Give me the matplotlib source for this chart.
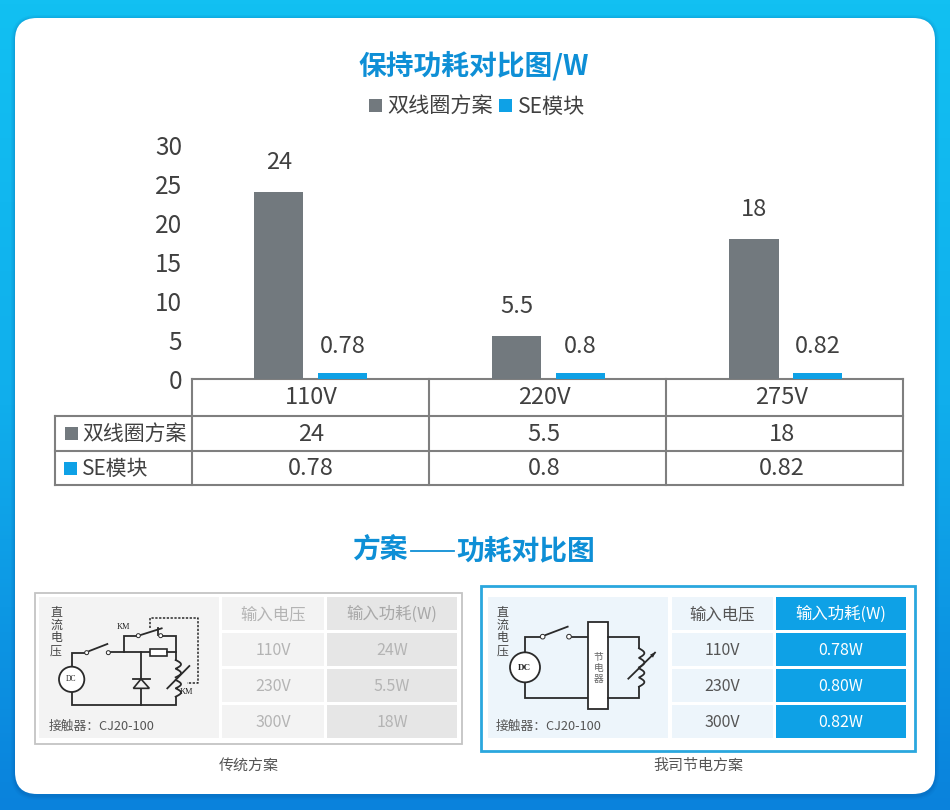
import numpy as np
import matplotlib
matplotlib.use("Agg")
import matplotlib.pyplot as plt
from matplotlib.colors import LinearSegmentedColormap
from matplotlib.patches import Rectangle, FancyBboxPatch, Circle, Polygon

plt.rcParams['font.family'] = ['Noto Sans CJK SC', 'DejaVu Sans']

# data
voltages = ["110V", "220V", "275V"]
series_names = ["双线圈方案", "SE模块"]
coil_values = [24, 5.5, 18]
se_values = [0.78, 0.8, 0.82]
coil_labels = ["24", "5.5", "18"]
se_labels = ["0.78", "0.8", "0.82"]
y_ticks = [0, 5, 10, 15, 20, 25, 30]

table_head = ["输入电压", "输入功耗(W)"]
input_volts = ["110V", "230V", "300V"]
old_power = ["24W", "5.5W", "18W"]
new_power = ["0.78W", "0.80W", "0.82W"]

GRAY = "#72797e"
BLUE = "#0ea1e6"
TITLE = "#0e8fd6"
TEXT = "#404040"
GRID = "#7f7f7f"

fig = plt.figure(figsize=(9.5, 8.1), dpi=100)

# pixel canvas for everything around the chart
ov = fig.add_axes([0, 0, 1, 1], zorder=1)
ov.set_xlim(0, 950)
ov.set_ylim(810, 0)
ov.axis('off')

cmap = LinearSegmentedColormap.from_list("bg", ["#12c0f2", "#10aeec", "#0a82dc"])
ov.imshow(np.linspace(0, 1, 200).reshape(-1, 1), extent=[0, 950, 810, 0], aspect='auto', cmap=cmap, zorder=0)
# soft shadow under the card
for grow, alpha in [(4, 0.05), (2.5, 0.07), (1.2, 0.1)]:
    ov.add_patch(FancyBboxPatch((37, 41), 876, 733, boxstyle=f"round,pad={22 + grow},rounding_size={22 + grow}",
                                fc="#06408a", ec="none", alpha=alpha, zorder=1))
ov.add_patch(FancyBboxPatch((37, 40), 876, 732, boxstyle="round,pad=22,rounding_size=22", fc="white", ec="none", zorder=1))

ov.text(474, 75, "保持功耗对比图/W", fontsize=20, fontweight='bold', color=TITLE, ha='center', va='baseline')
ov.text(352, 559, "方案", fontsize=20, fontweight='bold', color=TITLE, ha='left', va='baseline')
ov.plot([411, 454], [551, 551], color=TITLE, lw=1.3, zorder=3)
ov.text(595, 559, "功耗对比图", fontsize=20, fontweight='bold', color=TITLE, ha='right', va='baseline')

# legend
ov.add_patch(Rectangle((369, 99), 13, 13, fc=GRAY, ec="none", zorder=3))
ov.text(387, 106.5, series_names[0], fontsize=15.2, color=TEXT, va='center')
ov.add_patch(Rectangle((499, 99), 13, 13, fc=BLUE, ec="none", zorder=3))
ov.text(518, 106.5, series_names[1], fontsize=15.2, color=TEXT, va='center')

# bar chart
ax = fig.add_axes([192 / 950, 1 - 379 / 810, 713 / 950, 234 / 810], zorder=2)
ax.patch.set_alpha(0)
x = np.arange(len(voltages)) + 0.5
bw = 0.207
ax.bar(x - 0.135, coil_values, bw, color=GRAY)
ax.bar(x + 0.133, se_values, bw, color=BLUE)
ax.set_xlim(0, 3)
ax.set_ylim(0, 30)
ax.set_xticks([])
ax.set_yticks(y_ticks)
ax.tick_params(axis='y', length=0, pad=7, labelsize=17.5, labelcolor=TEXT)
for s in ax.spines.values():
    s.set_visible(False)
for xi, v, t in zip(x, coil_values, coil_labels):
    ax.annotate(t, (xi - 0.135, v), xytext=(0, 21), textcoords='offset points', ha='center', va='center', fontsize=17, color=TEXT)
for xi, v, t in zip(x, se_values, se_labels):
    ax.annotate(t, (xi + 0.133, v), xytext=(0, 19), textcoords='offset points', ha='center', va='center', fontsize=17, color=TEXT)

# data table under the bars
col_x = [192, 429, 666, 903]
row_y = [379, 416, 451, 485]
for xv in col_x:
    ov.plot([xv, xv], [row_y[0], row_y[-1]], color=GRID, lw=1.5, zorder=3, solid_capstyle='projecting')
ov.plot([55, 55], [row_y[1], row_y[-1]], color=GRID, lw=1.5, zorder=3, solid_capstyle='projecting')
ov.plot([192, 903], [row_y[0], row_y[0]], color=GRID, lw=1.5, zorder=3, solid_capstyle='projecting')
for yv in row_y[1:]:
    ov.plot([55, 903], [yv, yv], color=GRID, lw=1.5, zorder=3, solid_capstyle='projecting')

cell_x = [311, 544, 782]
for cx, v, a, b in zip(cell_x, voltages, coil_labels, se_labels):
    ov.text(cx, 397.5, v, fontsize=17, color=TEXT, ha='center', va='center')
    ov.text(cx, 434.5, a, fontsize=17, color=TEXT, ha='center', va='center')
    ov.text(cx, 468.5, b, fontsize=17, color=TEXT, ha='center', va='center')
ov.add_patch(Rectangle((65, 427), 13, 13, fc=GRAY, ec="none", zorder=3))
ov.text(82, 434, series_names[0], fontsize=15, color=TEXT, va='center')
ov.add_patch(Rectangle((64, 462), 13, 13, fc=BLUE, ec="none", zorder=3))
ov.text(82, 468.5, series_names[1], fontsize=15, color=TEXT, va='center')


def wire(pts, base, color="#2a2a2a", lw=1.3, **kw):
    xs = [base[0] + p[0] / 3 for p in pts]
    ys = [base[1] + p[1] / 3 for p in pts]
    ov.plot(xs, ys, color=color, lw=lw, zorder=4, solid_joinstyle='miter', **kw)


def ring(cx, cy, r, base, lw=1.3, fc="white"):
    ov.add_patch(Circle((base[0] + cx / 3, base[1] + cy / 3), r / 3, fc=fc, ec="#2a2a2a", lw=lw, zorder=5))


def coil(xc, y0, y1, n, base, amp=16):
    t = np.linspace(0, 1, 80)
    wire(list(zip(xc + amp * np.abs(np.sin(np.pi * n * t)), y0 + (y1 - y0) * t)), base)


def vlabel(txt, xc, ys, base, size=8.6, color="#444444"):
    for ch, yc in zip(txt, ys):
        ov.text(base[0] + xc / 3, base[1] + yc / 3, ch, fontsize=size, color=color, ha='center', va='center', zorder=5)


def panel_table(x1, x2, x3, x4, power, fc1, fc2, txt1, txt2, head_fc, head_txt, strong):
    rows = [(597, 630), (633, 666), (669, 702), (705, 738)]
    weight = 'medium' if strong else 'normal'
    for i, (y0, y1) in enumerate(rows):
        ov.add_patch(Rectangle((x1, y0), x2 - x1, y1 - y0, fc=fc1, ec="none", zorder=3))
        ov.add_patch(Rectangle((x3, y0), x4 - x3, y1 - y0, fc=head_fc if i == 0 else fc2, ec="none", zorder=3))
        ym = (y0 + y1) / 2 + 1
        if i == 0:
            ov.text((x1 + x2) / 2, ym, table_head[0], fontsize=11.8, color=txt1, ha='center', va='center', zorder=4)
            ov.text((x3 + x4) / 2, ym, table_head[1], fontsize=11.8, color=head_txt, ha='center', va='center', zorder=4, fontweight=weight)
        else:
            ov.text((x1 + x2) / 2, ym, input_volts[i - 1], fontsize=11.5, color=txt1, ha='center', va='center', zorder=4)
            ov.text((x3 + x4) / 2, ym, power[i - 1], fontsize=11.5, color=txt2, ha='center', va='center', zorder=4, fontweight=weight)


# left panel: traditional scheme
ov.add_patch(Rectangle((35, 593), 427, 151, fc="white", ec="#c4c4c4", lw=1.3, zorder=2))
ov.add_patch(Rectangle((39, 597), 180, 141, fc="#f3f3f3", ec="none", zorder=3))
panel_table(222, 324, 327, 457, old_power, "#f3f3f3", "#e6e6e6", "#b4b4b4", "#b4b4b4", "#e6e6e6", "#a8a8a8", False)
L = (30, 580)
vlabel("直流电压", 78, [95, 135, 172, 212], L)
ring(125, 298, 38, L)
ov.text(L[0] + 123 / 3, L[1] + 298 / 3, "DC", fontsize=5.5, family='Liberation Serif', color="#222222", ha='center', va='center', zorder=6)
wire([(125, 260), (125, 218), (165, 218)], L)
wire([(178, 213), (232, 192)], L)
wire([(240, 216), (360, 216)], L)
ov.add_patch(Rectangle((L[0] + 120, L[1] + 208 / 3), 50 / 3, 20 / 3, fc="white", ec="#2a2a2a", lw=1.2, zorder=4))
wire([(410, 216), (437, 216)], L)
wire([(282, 216), (282, 167), (320, 167)], L)
wire([(332, 165), (395, 145)], L)
wire([(385, 145), (385, 165)], L)
wire([(398, 167), (437, 167), (437, 240)], L)
coil(437, 240, 292, 2, L)
coil(437, 300, 350, 2, L)
wire([(437, 350), (437, 376), (125, 376), (125, 336)], L)
wire([(333, 216), (333, 376)], L)
ov.add_patch(Polygon([(L[0] + 310 / 3, L[1] + 325 / 3), (L[0] + 358 / 3, L[1] + 325 / 3), (L[0] + 333 / 3, L[1] + 297 / 3)],
                     closed=True, fc="#f3f3f3", ec="#2a2a2a", lw=1.2, zorder=5))
wire([(308, 296), (360, 296)], L)
wire([(412, 325), (478, 258)], L)
wire([(360, 145), (360, 115), (503, 115), (503, 310), (470, 310)], L, lw=1.1, linestyle=(0, (1.5, 1.0)))
for cx, cy in [(170, 218), (235, 218), (325, 167), (392, 167)]:
    ring(cx, cy, 6, L, lw=0.7)
ov.text(L[0] + 281 / 3, L[1] + 140 / 3, "KM", fontsize=6, family='Liberation Serif', color="#222222", ha='center', va='center', zorder=6)
ov.text(L[0] + 470 / 3, L[1] + 337 / 3, "KM", fontsize=6, family='Liberation Serif', color="#222222", ha='center', va='center', zorder=6)
ov.text(L[0] + 57 / 3, L[1] + 438 / 3, "接触器：CJ20-100", fontsize=9.2, color="#555555", va='center', zorder=5)
ov.text(249, 766, "传统方案", fontsize=10.8, color="#555555", ha='center', va='center')

# right panel: our scheme
ov.add_patch(Rectangle((481, 586), 434, 165, fc="white", ec="#2aa7de", lw=2.0, zorder=2))
ov.add_patch(Rectangle((488, 597), 180, 141, fc="#edf5fb", ec="none", zorder=3))
panel_table(672, 773, 776, 906, new_power, "#edf5fb", BLUE, "#555555", "white", BLUE, "white", True)
R = (475, 580)
vlabel("直流电压", 83, [95, 135, 172, 212], R)
ring(150, 262, 45, R, fc="white")
ov.text(R[0] + 148 / 3, R[1] + 264 / 3, "DC", fontsize=6.5, fontweight='bold', family='Liberation Serif', color="#222222", ha='center', va='center', zorder=6)
wire([(150, 217), (150, 170), (197, 170)], R)
wire([(212, 165), (278, 140)], R)
wire([(290, 170), (338, 170)], R)
wire([(150, 307), (150, 355), (338, 355)], R)
ov.add_patch(Rectangle((R[0] + 338 / 3, R[1] + 125 / 3), 62 / 3, 263 / 3, fc="white", ec="#2a2a2a", lw=1.3, zorder=4))
vlabel("节电器", 371, [230, 265, 298], R, size=7, color="#666666")
wire([(400, 170), (492, 170), (492, 205)], R)
coil(492, 205, 262, 2, R)
coil(492, 265, 320, 2, R)
wire([(492, 320), (492, 355), (400, 355)], R)
wire([(460, 296), (540, 218)], R)
ov.add_patch(Polygon([(R[0] + 542 / 3, R[1] + 216 / 3), (R[0] + 525 / 3, R[1] + 224 / 3), (R[0] + 534 / 3, R[1] + 233 / 3)],
                     closed=True, fc="#2a2a2a", ec="none", zorder=5))
for cx, cy in [(203, 170), (282, 170)]:
    ring(cx, cy, 7, R, lw=0.7)
ov.text(R[0] + 63 / 3, R[1] + 438 / 3, "接触器：CJ20-100", fontsize=9.2, color="#555555", va='center', zorder=5)
ov.text(698, 766, "我司节电方案", fontsize=10.8, color="#555555", ha='center', va='center')

fig.savefig("out.png", dpi=100)
